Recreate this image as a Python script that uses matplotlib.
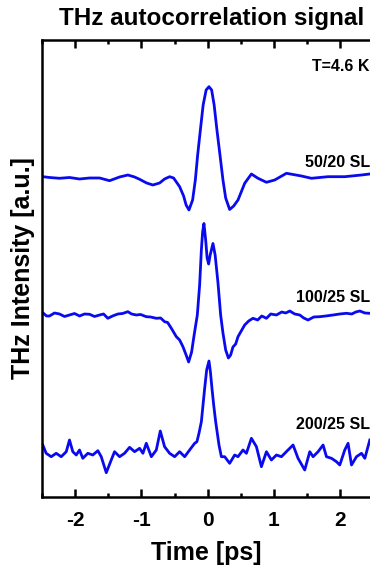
import matplotlib
import matplotlib.pyplot as plt
from matplotlib.ticker import MultipleLocator, NullLocator

matplotlib.use("Agg")
plt.rcParams["font.family"] = ["Liberation Sans", "DejaVu Sans"]
plt.rcParams["font.weight"] = "bold"
plt.rcParams["axes.unicode_minus"] = False

# 50/20 SL superlattice trace
t_50_20 = [-2.488, -2.387, -2.236, -2.085, -1.934, -1.782, -1.631, -1.480, -1.329, -1.204,
           -1.103, -1.027, -0.921, -0.826, -0.725, -0.650, -0.574, -0.514, -0.423, -0.363,
           -0.325, -0.282, -0.227, -0.186, -0.151, -0.110, -0.068, -0.023, 0.020, 0.060,
           0.098, 0.140, 0.186, 0.231, 0.272, 0.332, 0.393, 0.458, 0.559, 0.660,
           0.760, 0.887, 1.012, 1.189, 1.415, 1.566, 1.817, 2.069, 2.322, 2.447]
s_50_20 = [32.03, 31.95, 31.87, 31.95, 31.80, 31.90, 31.90, 31.63, 32.00, 32.20,
           32.00, 31.77, 31.40, 31.20, 31.40, 31.80, 32.03, 31.90, 31.03, 30.10,
           29.20, 28.70, 29.70, 31.70, 34.20, 36.70, 39.20, 40.70, 41.03, 40.70,
           39.20, 36.70, 34.20, 31.70, 29.90, 28.75, 29.10, 29.70, 31.37, 32.30,
           31.87, 31.47, 31.70, 32.37, 32.10, 31.87, 32.03, 32.03, 32.20, 32.30]

# 100/25 SL
t_100_25 = [-2.488, -2.432, -2.387, -2.311, -2.236, -2.160, -2.085, -2.009, -1.934, -1.858,
            -1.782, -1.707, -1.631, -1.571, -1.506, -1.435, -1.355, -1.284, -1.204, -1.148,
            -1.077, -1.012, -0.926, -0.861, -0.775, -0.710, -0.650, -0.604, -0.548, -0.473,
            -0.423, -0.373, -0.325, -0.287, -0.242, -0.204, -0.156, -0.121, -0.095, -0.076,
            -0.056, -0.030, -0.008, 0.015, 0.038, 0.080, 0.113, 0.156, 0.196, 0.231,
            0.272, 0.313, 0.347, 0.382, 0.423, 0.458, 0.498, 0.559, 0.619, 0.684,
            0.755, 0.816, 0.887, 0.952, 1.038, 1.118, 1.178, 1.239, 1.314, 1.390,
            1.450, 1.515, 1.601, 1.692, 1.782, 1.893, 1.994, 2.095, 2.175, 2.236,
            2.296, 2.372, 2.447]
s_100_25 = [18.43, 18.10, 18.10, 18.40, 18.30, 18.05, 18.20, 18.35, 18.10, 18.30,
            18.27, 18.05, 18.20, 18.30, 17.87, 18.10, 18.30, 18.35, 18.53, 18.30,
            18.20, 18.25, 18.03, 18.00, 17.87, 17.90, 17.53, 17.45, 16.87, 16.03,
            15.70, 15.03, 14.20, 13.50, 14.50, 16.20, 18.20, 21.20, 24.70, 26.50,
            27.35, 25.70, 23.90, 23.30, 24.20, 25.35, 24.20, 21.40, 18.20, 16.40,
            14.70, 13.90, 14.20, 15.00, 15.30, 16.03, 16.50, 17.20, 17.60, 17.87,
            17.70, 18.10, 17.87, 18.30, 18.20, 18.50, 18.40, 18.60, 18.30, 18.20,
            17.90, 17.70, 18.00, 18.03, 18.10, 18.20, 18.30, 18.37, 18.30, 18.50,
            18.60, 18.40, 18.37]

# 200/25 SL
t_200_25 = [-2.488, -2.437, -2.361, -2.286, -2.210, -2.134, -2.085, -2.035, -1.983, -1.934,
            -1.884, -1.808, -1.733, -1.657, -1.606, -1.530, -1.455, -1.405, -1.329, -1.254,
            -1.178, -1.103, -1.027, -0.977, -0.926, -0.850, -0.775, -0.715, -0.650, -0.574,
            -0.498, -0.423, -0.347, -0.272, -0.196, -0.162, -0.131, -0.095, -0.045, -0.015,
            0.020, 0.042, 0.065, 0.091, 0.121, 0.171, 0.207, 0.257, 0.332, 0.408,
            0.458, 0.533, 0.585, 0.660, 0.736, 0.811, 0.887, 0.962, 1.038, 1.113,
            1.213, 1.289, 1.364, 1.465, 1.541, 1.591, 1.666, 1.742, 1.793, 1.869,
            1.944, 1.994, 2.069, 2.119, 2.171, 2.246, 2.322, 2.372, 2.447]
s_200_25 = [5.20, 4.37, 4.03, 4.37, 4.03, 4.53, 5.70, 4.53, 4.20, 4.70,
            3.87, 4.37, 4.20, 4.63, 4.03, 2.43, 3.70, 4.53, 4.03, 4.37,
            4.97, 4.53, 4.87, 4.37, 5.37, 4.03, 4.70, 6.60, 5.03, 4.37,
            4.03, 4.53, 4.03, 4.70, 5.37, 5.53, 6.37, 7.53, 10.87, 12.70,
            13.60, 12.50, 10.87, 9.20, 7.53, 5.20, 4.03, 4.03, 3.37, 4.20,
            4.03, 4.70, 4.37, 5.87, 5.03, 3.03, 4.53, 3.70, 4.20, 4.03,
            4.70, 5.20, 3.87, 2.70, 4.53, 4.03, 4.53, 5.20, 4.03, 3.87,
            3.53, 3.20, 4.70, 5.37, 3.20, 4.03, 4.37, 3.87, 5.70]

labels = ["50/20 SL", "100/25 SL", "200/25 SL"]
label_y = [33.4, 19.9, 7.2]

fig = plt.figure(figsize=(3.70, 5.68), dpi=100)
ax = fig.add_axes([0.1135, 0.125, 0.8865, 0.8046])

for t, s in [(t_50_20, s_50_20), (t_100_25, s_100_25), (t_200_25, s_200_25)]:
    ax.plot(t, s, color="#0a0aee", lw=2.0)

for lab, y in zip(labels, label_y):
    ax.text(2.45, y, lab, ha="right", va="center", fontsize=11.5, fontweight="bold")
ax.text(2.45, 43.0, "T=4.6 K", ha="right", va="center", fontsize=11.5, fontweight="bold")

ax.set_xlim(-2.5, 2.45)
ax.set_ylim(0, 45.7)
ax.xaxis.set_major_locator(MultipleLocator(1))
ax.xaxis.set_minor_locator(MultipleLocator(0.5))
ax.yaxis.set_major_locator(NullLocator())
ax.tick_params(axis="x", which="both", direction="in", top=True, width=1.8, labelsize=15, pad=10)
ax.tick_params(axis="x", which="major", length=6)
ax.tick_params(axis="x", which="minor", length=3)
for lbl in ax.get_xticklabels():
    lbl.set_fontweight("bold")
ax.spines["right"].set_visible(False)
for side in ["left", "top", "bottom"]:
    ax.spines[side].set_linewidth(1.8)

ax.set_xlabel("Time [ps]", fontsize=18, fontweight="bold", labelpad=8)
ax.set_ylabel("THz Intensity [a.u.]", fontsize=18, fontweight="bold", labelpad=5)
fig.text(0.572, 0.968, "THz autocorrelation signal", ha="center", va="center",
         fontsize=17.5, fontweight="bold")

fig.savefig("out.png", dpi=100)
